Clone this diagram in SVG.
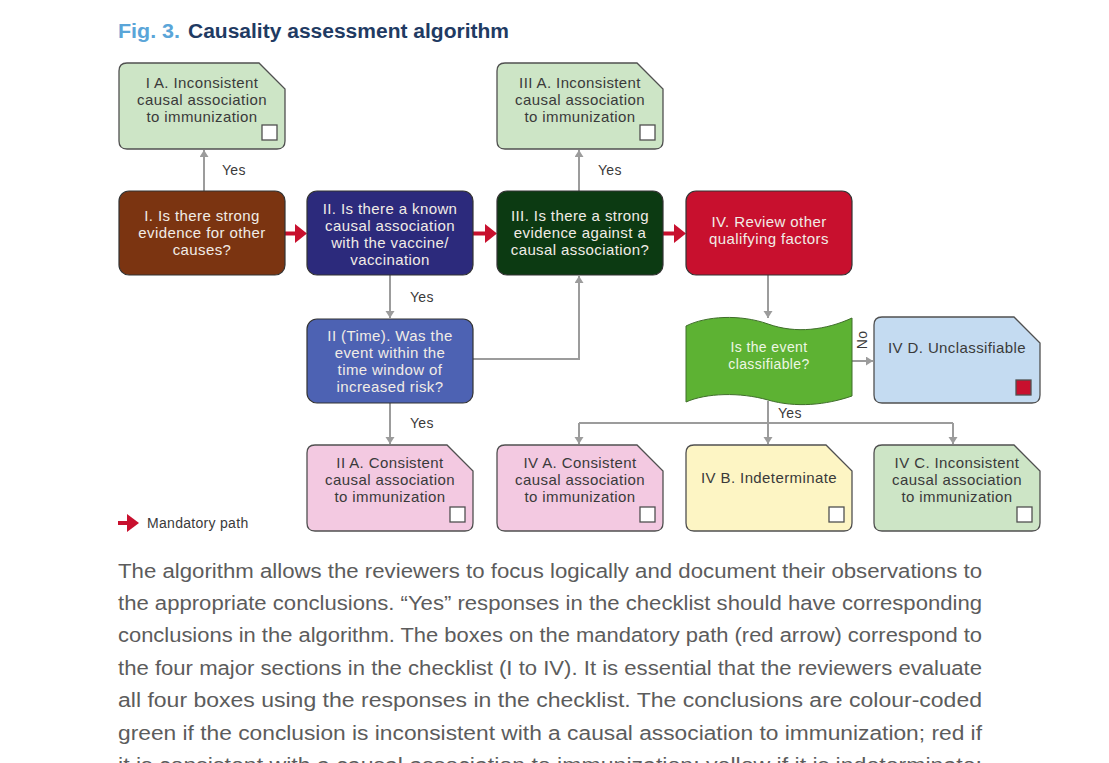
<svg xmlns="http://www.w3.org/2000/svg" xmlns:xlink="http://www.w3.org/1999/xlink" width="1109" height="763" viewBox="0 0 1109 763">
<style>
  .bt { font-family: "Liberation Sans", Arial, sans-serif; font-size: 15px; letter-spacing: 0.4px; text-anchor: middle; fill: #3a3a3a; }
  .dt { font-family: "Liberation Sans", Arial, sans-serif; font-size: 15px; letter-spacing: 0.4px; text-anchor: middle; fill: #f1ece6; }
  .lbl { font-family: "Liberation Sans", Arial, sans-serif; font-size: 14px; letter-spacing: 0.3px; fill: #3a3a3a; }
  .para { font-family: "Liberation Sans", Arial, sans-serif; font-size: 20px; fill: #5c5c5c; }
  .note { stroke: #505050; stroke-width: 1.3; }
  .dec { stroke: #333333; stroke-width: 1.2; }
  .chk { fill: #ffffff; stroke: #505050; stroke-width: 1.3; }
  .conn { fill: none; stroke: #9c9c9c; stroke-width: 2; }
  .green { fill: #cde5c6; }
  .pink { fill: #f3c9e1; }
  .yellow { fill: #fdf5c4; }
  .blue { fill: #c4dbf1; }
</style>
<defs>
  <path id="note" d="M8,0 H140 L166,26 V78 Q166,86 158,86 H8 Q0,86 0,78 V8 Q0,0 8,0 Z"/>
  <marker id="ah" markerUnits="userSpaceOnUse" markerWidth="10" markerHeight="10" refX="7" refY="4.5" orient="auto">
    <path d="M0,0 L7,4.5 L0,9 z" fill="#9c9c9c"/>
  </marker>
</defs>
<rect width="1109" height="763" fill="#ffffff"/>

<g id="title" font-family="Liberation Sans, Arial, sans-serif" font-size="20" font-weight="bold">
  <text x="118" y="38" fill="#5aa5d8" textLength="62" lengthAdjust="spacingAndGlyphs">Fig. 3.</text>
  <text x="188" y="38" fill="#1f3b63" textLength="321" lengthAdjust="spacingAndGlyphs">Causality assessment algorithm</text>
</g>

<g id="connectors">
  <path class="conn" d="M204,191 V150" marker-end="url(#ah)"/>
  <path class="conn" d="M579,191 V150" marker-end="url(#ah)"/>
  <path class="conn" d="M390,275 V318" marker-end="url(#ah)"/>
  <path class="conn" d="M473,359 H579 V276" marker-end="url(#ah)"/>
  <path class="conn" d="M390,403 V444" marker-end="url(#ah)"/>
  <path class="conn" d="M768,275 V318" marker-end="url(#ah)"/>
  <path class="conn" d="M852,361 H873" marker-end="url(#ah)"/>
  <path class="conn" d="M768,401 V423"/>
  <path class="conn" d="M579,423 H953"/>
  <path class="conn" d="M579,423 V444" marker-end="url(#ah)"/>
  <path class="conn" d="M768,423 V444" marker-end="url(#ah)"/>
  <path class="conn" d="M953,423 V444" marker-end="url(#ah)"/>
  <g id="mandatory" fill="#c8102e">
    <rect x="285" y="231.5" width="12" height="4"/>
    <polygon points="295,224 307,233.5 295,243"/>
    <rect x="473" y="231.5" width="13" height="4"/>
    <polygon points="485,224 497,233.5 485,243"/>
    <rect x="663" y="231.5" width="12" height="4"/>
    <polygon points="674,224 686,233.5 674,243"/>
  </g>
  <text class="lbl" x="222" y="175">Yes</text>
  <text class="lbl" x="598" y="175">Yes</text>
  <text class="lbl" x="410" y="302">Yes</text>
  <text class="lbl" x="410" y="428">Yes</text>
  <text class="lbl" x="778" y="418">Yes</text>
  <text class="lbl" x="867" y="340" text-anchor="middle" transform="rotate(-90 867 340)">No</text>
</g>

<g id="node-IA">
  <use xlink:href="#note" href="#note" class="note green" x="119" y="63"/>
  <rect class="chk" x="262" y="125" width="15" height="15"/>
  <text class="bt" x="202" y="88">I A. Inconsistent</text>
  <text class="bt" x="202" y="105">causal association</text>
  <text class="bt" x="202" y="122">to immunization</text>
</g>

<g id="node-IIIA">
  <use xlink:href="#note" href="#note" class="note green" x="497" y="63"/>
  <rect class="chk" x="640" y="125" width="15" height="15"/>
  <text class="bt" x="580" y="88">III A. Inconsistent</text>
  <text class="bt" x="580" y="105">causal association</text>
  <text class="bt" x="580" y="122">to immunization</text>
</g>

<g id="node-I">
  <rect class="dec" x="119" y="191" width="166" height="84" rx="10" fill="#7b3411"/>
  <text class="dt" x="202" y="221">I. Is there strong</text>
  <text class="dt" x="202" y="238">evidence for other</text>
  <text class="dt" x="202" y="255">causes?</text>
</g>

<g id="node-II">
  <rect class="dec" x="307" y="191" width="166" height="84" rx="10" fill="#2c2a7c"/>
  <text class="dt" x="390" y="214">II. Is there a known</text>
  <text class="dt" x="390" y="231">causal association</text>
  <text class="dt" x="390" y="248">with the vaccine/</text>
  <text class="dt" x="390" y="265">vaccination</text>
</g>

<g id="node-III">
  <rect class="dec" x="497" y="191" width="166" height="84" rx="10" fill="#0c3a12"/>
  <text class="dt" x="580" y="221">III. Is there a strong</text>
  <text class="dt" x="580" y="238">evidence against a</text>
  <text class="dt" x="580" y="255">causal association?</text>
</g>

<g id="node-IV">
  <rect class="dec" x="686" y="191" width="166" height="84" rx="10" fill="#c8102e"/>
  <text class="dt" x="769" y="227">IV. Review other</text>
  <text class="dt" x="769" y="244">qualifying factors</text>
</g>

<g id="node-IITime">
  <rect class="dec" x="307" y="319" width="166" height="84" rx="10" fill="#4d62b3"/>
  <text class="dt" x="390" y="341">II (Time). Was the</text>
  <text class="dt" x="390" y="358">event within the</text>
  <text class="dt" x="390" y="375">time window of</text>
  <text class="dt" x="390" y="392">increased risk?</text>
</g>

<g id="node-classifiable">
  <path d="M686,326 C706,316 740,314 768,324 C796,334 826,330 852,318 V396 C826,405 796,408 768,400 C740,392 706,393 686,402 Z" fill="#5db233" stroke="#3f6e2a" stroke-width="1"/>
  <text class="dt" x="769" y="352" style="fill:#eef7e4;font-size:14px">Is the event</text>
  <text class="dt" x="769" y="369" style="fill:#eef7e4;font-size:14px">classifiable?</text>
</g>

<g id="node-IVD">
  <use xlink:href="#note" href="#note" class="note blue" x="874" y="317"/>
  <rect x="1016" y="380" width="15" height="15" fill="#c8102e" stroke="#505050" stroke-width="1.3"/>
  <text class="bt" x="957" y="353">IV D. Unclassifiable</text>
</g>

<g id="node-IIA">
  <use xlink:href="#note" href="#note" class="note pink" x="307" y="445"/>
  <rect class="chk" x="450" y="507" width="15" height="15"/>
  <text class="bt" x="390" y="468">II A. Consistent</text>
  <text class="bt" x="390" y="485">causal association</text>
  <text class="bt" x="390" y="502">to immunization</text>
</g>

<g id="node-IVA">
  <use xlink:href="#note" href="#note" class="note pink" x="497" y="445"/>
  <rect class="chk" x="640" y="507" width="15" height="15"/>
  <text class="bt" x="580" y="468">IV A. Consistent</text>
  <text class="bt" x="580" y="485">causal association</text>
  <text class="bt" x="580" y="502">to immunization</text>
</g>

<g id="node-IVB">
  <use xlink:href="#note" href="#note" class="note yellow" x="686" y="445"/>
  <rect class="chk" x="829" y="507" width="15" height="15"/>
  <text class="bt" x="769" y="483">IV B. Indeterminate</text>
</g>

<g id="node-IVC">
  <use xlink:href="#note" href="#note" class="note green" x="874" y="445"/>
  <rect class="chk" x="1017" y="507" width="15" height="15"/>
  <text class="bt" x="957" y="468">IV C. Inconsistent</text>
  <text class="bt" x="957" y="485">causal association</text>
  <text class="bt" x="957" y="502">to immunization</text>
</g>

<g id="legend">
  <rect x="118" y="521" width="11" height="4" fill="#c8102e"/>
  <polygon points="127,514 139,523 127,532" fill="#c8102e"/>
  <text class="lbl" x="147" y="528">Mandatory path</text>
</g>

<g id="paragraph">
  <text class="para" x="118" y="578" textLength="864" lengthAdjust="spacingAndGlyphs">The algorithm allows the reviewers to focus logically and document their observations to</text>
  <text class="para" x="118" y="610" textLength="864" lengthAdjust="spacingAndGlyphs">the appropriate conclusions. “Yes” responses in the checklist should have corresponding</text>
  <text class="para" x="118" y="642" textLength="864" lengthAdjust="spacingAndGlyphs">conclusions in the algorithm. The boxes on the mandatory path (red arrow) correspond to</text>
  <text class="para" x="118" y="675" textLength="864" lengthAdjust="spacingAndGlyphs">the four major sections in the checklist (I to IV). It is essential that the reviewers evaluate</text>
  <text class="para" x="118" y="707" textLength="864" lengthAdjust="spacingAndGlyphs">all four boxes using the responses in the checklist. The conclusions are colour-coded</text>
  <text class="para" x="118" y="740" textLength="864" lengthAdjust="spacingAndGlyphs">green if the conclusion is inconsistent with a causal association to immunization; red if</text>
  <text class="para" x="118" y="772" textLength="864" lengthAdjust="spacingAndGlyphs">it is consistent with a causal association to immunization; yellow if it is indeterminate;</text>
</g>
</svg>
